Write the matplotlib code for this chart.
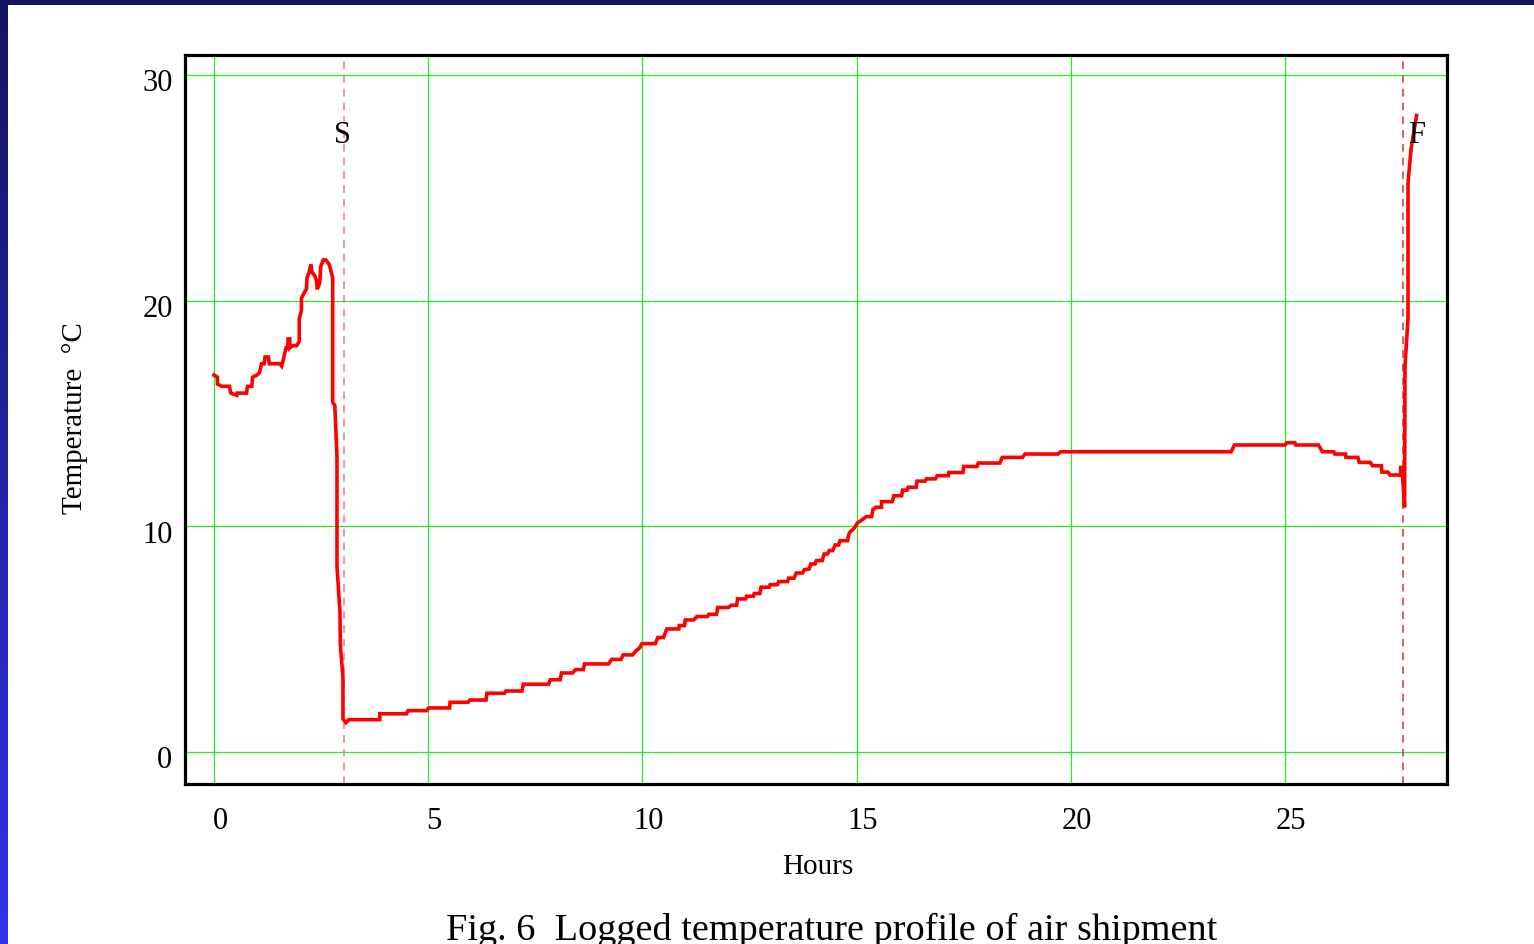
import numpy as np
import matplotlib
matplotlib.use("Agg")
import matplotlib.pyplot as plt
from matplotlib.patches import Rectangle
from matplotlib.colors import LinearSegmentedColormap
from matplotlib.transforms import ScaledTranslation

# logged temperature
hours = [0.00, 0.08, 0.08, 0.18, 0.36, 0.39, 0.53, 0.54, 0.76, 0.78, 0.88, 0.90, 1.00, 1.06,
         1.11, 1.17, 1.19, 1.27, 1.29, 1.54, 1.58, 1.62, 1.68, 1.72, 1.73, 1.77, 1.77, 1.83,
         1.93, 1.99, 1.99, 2.04, 2.04, 2.12, 2.16, 2.17, 2.22, 2.26, 2.29, 2.35, 2.39, 2.41,
         2.47, 2.49, 2.55, 2.61, 2.69, 2.77, 2.77, 2.82, 2.87, 2.87, 2.94, 2.95, 3.01, 3.01,
         3.08, 3.15, 3.87, 3.87, 4.49, 4.53, 4.96, 5.01, 5.50, 5.51, 5.93, 5.97, 6.35, 6.37,
         6.78, 6.81, 7.19, 7.22, 7.81, 7.85, 8.08, 8.11, 8.37, 8.44, 8.62, 8.65, 9.21, 9.28,
         9.50, 9.55, 9.77, 9.86, 9.93, 9.99, 10.30, 10.36, 10.49, 10.57, 10.85, 10.86, 10.98,
         11.00, 11.20, 11.27, 11.52, 11.55, 11.73, 11.76, 12.01, 12.07, 12.20, 12.22, 12.41,
         12.43, 12.59, 12.61, 12.74, 12.77, 12.96, 12.98, 13.15, 13.18, 13.39, 13.41, 13.54,
         13.59, 13.74, 13.78, 13.89, 13.93, 14.03, 14.06, 14.20, 14.24, 14.32, 14.36, 14.44,
         14.50, 14.58, 14.61, 14.79, 14.81, 14.84, 14.94, 15.02, 15.10, 15.23, 15.35, 15.38,
         15.45, 15.58, 15.58, 15.83, 15.87, 16.05, 16.07, 16.18, 16.20, 16.39, 16.41, 16.60,
         16.63, 16.84, 16.88, 17.14, 17.15, 17.48, 17.50, 17.81, 17.84, 18.34, 18.40, 18.87,
         18.93, 19.70, 19.76, 23.74, 23.82, 25.00, 25.04, 25.23, 25.25, 25.78, 25.87, 26.14,
         26.16, 26.41, 26.42, 26.70, 26.73, 26.99, 27.04, 27.25, 27.26, 27.40, 27.45, 27.70,
         27.70, 27.73, 27.79, 27.80, 27.87, 27.87, 27.94, 28.07]
temp = [16.7, 16.6, 16.3, 16.2, 16.2, 15.9, 15.8, 15.9, 15.9, 16.2, 16.2, 16.6, 16.7, 16.8,
        17.2, 17.2, 17.5, 17.5, 17.2, 17.2, 17.1, 17.4, 17.9, 17.9, 18.3, 18.3, 17.9, 18.0,
        18.0, 18.2, 19.2, 19.55, 20.1, 20.4, 20.5, 21.0, 21.25, 21.6, 21.25, 21.1, 20.9, 20.5,
        20.8, 21.5, 21.8, 21.8, 21.6, 21.0, 15.5, 15.35, 13.1, 8.25, 6.2, 4.7, 3.3, 1.46,
        1.3, 1.43, 1.43, 1.69, 1.69, 1.83, 1.83, 1.95, 1.95, 2.2, 2.2, 2.3, 2.3, 2.6,
        2.6, 2.7, 2.7, 3.0, 3.0, 3.2, 3.2, 3.5, 3.5, 3.65, 3.65, 3.9, 3.9, 4.1,
        4.1, 4.3, 4.3, 4.5, 4.6, 4.8, 4.8, 5.07, 5.07, 5.45, 5.45, 5.6, 5.6,
        5.85, 5.85, 6.0, 6.0, 6.1, 6.1, 6.4, 6.4, 6.5, 6.5, 6.78, 6.78,
        6.9, 6.9, 7.02, 7.02, 7.3, 7.3, 7.41, 7.41, 7.55, 7.55, 7.7, 7.7,
        7.93, 7.93, 8.08, 8.1, 8.33, 8.33, 8.48, 8.48, 8.77, 8.77, 8.92, 8.92,
        9.17, 9.17, 9.36, 9.36, 9.58, 9.73, 9.91, 10.15, 10.25, 10.43, 10.43, 10.74,
        10.84, 10.84, 11.09, 11.09, 11.35, 11.35, 11.6, 11.6, 11.73, 11.73, 12.0, 12.0,
        12.1, 12.1, 12.24, 12.24, 12.38, 12.38, 12.65, 12.65, 12.8, 12.8, 13.05, 13.05,
        13.2, 13.2, 13.3, 13.3, 13.6, 13.6, 13.7, 13.7, 13.6, 13.6, 13.3, 13.3,
        13.2, 13.2, 13.05, 13.05, 12.83, 12.83, 12.68, 12.68, 12.4, 12.4, 12.27, 12.27,
        12.6, 12.6, 10.84, 17.1, 19.2, 25.2, 26.7, 28.2]

x_ticks = [0, 5, 10, 15, 20, 25]
y_ticks = [0, 10, 20, 30]
start_hour = 3.03
finish_hour = 27.75

plt.rcParams['font.family'] = ['Liberation Serif', 'DejaVu Serif']

fig = plt.figure(figsize=(15.34, 9.45), dpi=100, facecolor='white')

# blue slide border (top band + left gradient)
band = fig.add_axes([0, 0, 8 / 1534, 1])
cmap = LinearSegmentedColormap.from_list('slide', ['#141462', '#3232ea'])
band.imshow(np.linspace(0, 1, 256).reshape(-1, 1), aspect='auto', cmap=cmap)
band.set_axis_off()
fig.add_artist(Rectangle((0, 1 - 6 / 945), 1, 6 / 945, transform=fig.transFigure,
                         facecolor='#141462', edgecolor='none'))

ax = fig.add_axes([185 / 1534, 160 / 945, 1262 / 1534, 729 / 945])
ax.set_xlim(-0.677, 28.78)
ax.set_ylim(-1.42, 30.88)

ax.set_xticks(x_ticks)
ax.set_yticks(y_ticks)
ax.grid(True, color='#22ee22', linewidth=0.9)
ax.set_axisbelow(True)
ax.tick_params(length=0, labelsize=22, pad=0)
ax.tick_params(axis='x', pad=16)
ax.tick_params(axis='y', pad=9)
for lab in ax.get_xticklabels():
    lab.set_transform(lab.get_transform() + ScaledTranslation(0.06, 0, fig.dpi_scale_trans))
for lab in ax.get_yticklabels():
    lab.set_transform(lab.get_transform() + ScaledTranslation(0, -0.045, fig.dpi_scale_trans))
for sp in ax.spines.values():
    sp.set_linewidth(2.3)
    sp.set_color('black')

ax.axvline(start_hour, color='#f07878', linestyle=(0, (5, 4)), linewidth=1.1)
ax.axvline(finish_hour, color='#d83030', linestyle=(0, (5, 4)), linewidth=1.1)
ax.text(3.0, 27.35, 'S', fontsize=22, ha='center', va='center')
ax.text(28.06, 27.35, 'F', fontsize=22, ha='center', va='center')

ax.plot(hours, temp, color='red', linewidth=2.6, solid_joinstyle='miter')

fig.text(75 / 1534, 1 - 418 / 945, 'Temperature  °C', rotation=90, fontsize=21,
         ha='center', va='center')
fig.text(818 / 1534, 1 - 867 / 945, 'Hours', fontsize=21, ha='center', va='center')
fig.text(832 / 1534, 1 - 940 / 945, 'Fig. 6  Logged temperature profile of air shipment',
         fontsize=27.5, ha='center', va='baseline')

fig.savefig('out.png', dpi=100, facecolor='white')
